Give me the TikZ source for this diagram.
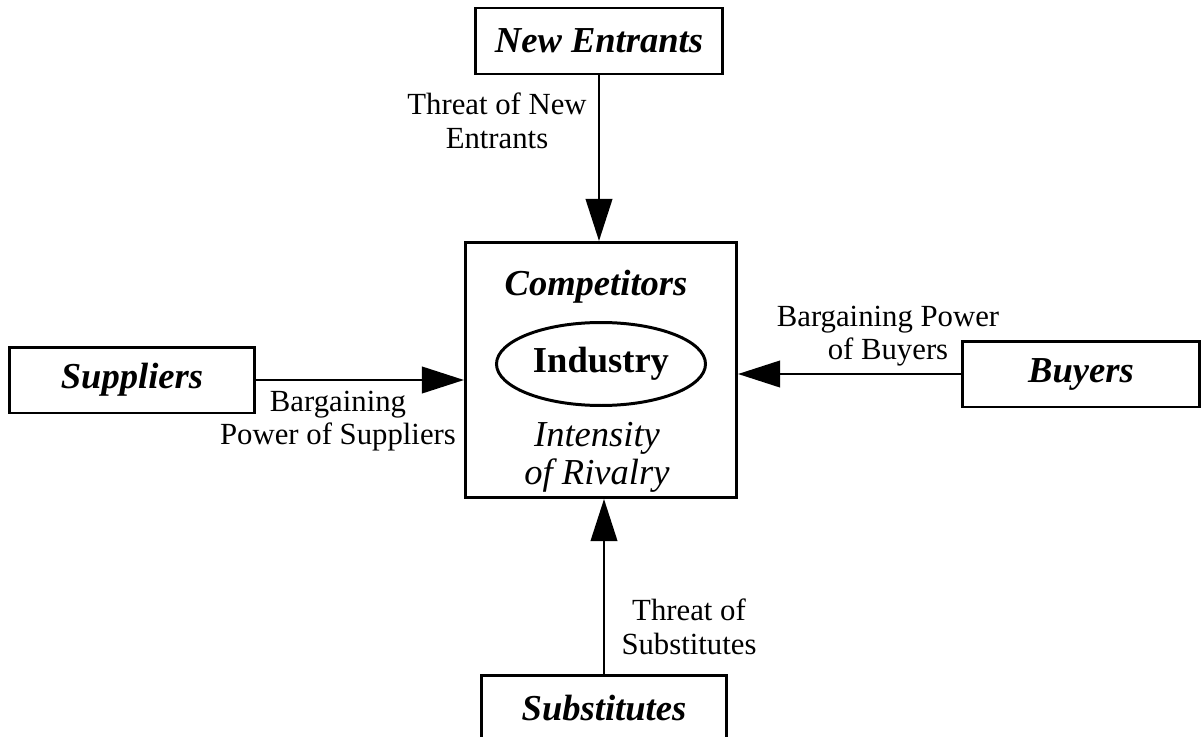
\documentclass[tikz,border=0pt]{standalone}
\usepackage{fontspec}
\setmainfont{Liberation Serif}
\usetikzlibrary{arrows.meta,shapes.geometric}

\tikzset{
  kasten/.style={draw, line width=1.7pt, minimum height=1.32cm, inner sep=0pt,
    font=\fontsize{20.8}{22}\selectfont\bfseries\itshape},
  pfeil/.style={-{Triangle[length=24pt,width=15pt]}, line width=1.7pt},
  beschriftung/.style={font=\fontsize{17.5}{19}\selectfont, align=center},
}

\begin{document}
\begin{tikzpicture}[x=0.02cm,y=-0.02cm]
    \useasboundingbox (0,0) rectangle (1204,737);
    %Kraefte
    \node[kasten, minimum width=4.96cm] (neu) at (599,41) {New Entrants};
    \node[kasten, minimum width=4.9cm] (lief) at (132,380) {Suppliers};
    \node[kasten, minimum width=4.74cm] (kaeufer) at (1081,374) {Buyers};
    \node[kasten, minimum width=4.9cm] (ersatz) at (604,708) {Substitutes};
    %Branche
    \node[draw, line width=1.7pt, minimum width=5.42cm, minimum height=5.1cm] (branche) at (601,370) {};
    \node[font=\fontsize{20.8}{22}\selectfont\bfseries\itshape] (wettb) at (596,287) {Competitors};
    \node[ellipse, draw, line width=1.7pt, minimum width=3.74cm, minimum height=1.66cm,
          font=\fontsize{20.8}{22}\selectfont\bfseries] (ind) at (601,364) {Industry};
    \node[font=\fontsize{20.8}{21.5}\selectfont\itshape, align=center] (rival) at (597,457) {Intensity\\of Rivalry};
    %Pfeile
    \draw[pfeil] (neu.south) -- (neu.south |- branche.north);
    \draw[pfeil] (lief.east) -- (lief.east -| branche.west);
    \draw[pfeil] (kaeufer.west) -- (kaeufer.west -| branche.east);
    \draw[pfeil] (ersatz.north) -- (ersatz.north |- branche.south);
    %Beschriftungen
    \node[beschriftung] (tneu) at (497,121) {Threat of New\\Entrants};
    \node[beschriftung] (tlief) at (338,421) {Bargaining\\Power of Suppliers};
    \node[beschriftung] (tkaeufer) at (888,336) {Bargaining Power\\of Buyers};
    \node[beschriftung] (tersatz) at (689,627) {Threat of\\Substitutes};
\end{tikzpicture}
\end{document}
